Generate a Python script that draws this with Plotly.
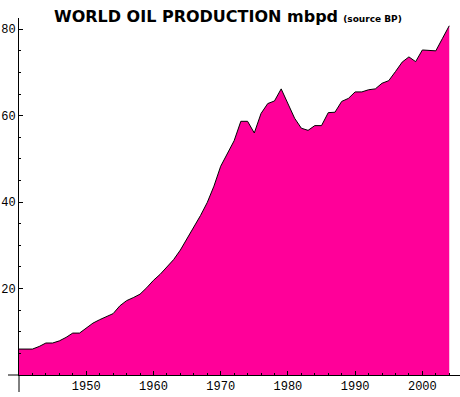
import plotly.graph_objects as go

years = list(range(1940, 2005))
production = [
    6.0, 6.0, 6.0, 6.6, 7.4, 7.4, 7.9, 8.7, 9.7, 9.7,
    10.8, 12.0, 12.8, 13.5, 14.2, 16.0, 17.2, 17.9, 18.7, 20.2,
    21.9, 23.3, 24.9, 26.7, 28.9, 31.5, 34.2, 36.9, 39.9, 43.7,
    48.3, 51.2, 54.2, 58.7, 58.7, 56.0, 60.5, 62.8, 63.4, 66.2,
    63.0, 59.4, 57.1, 56.6, 57.7, 57.7, 60.7, 60.8, 63.3, 64.0,
    65.5, 65.5, 66.0, 66.2, 67.5, 68.1, 70.2, 72.4, 73.6, 72.5,
    75.2, 75.1, 75.0, 77.9, 80.8,
]
x_major = [1950, 1960, 1970, 1980, 1990, 2000]
x_minor = [y for y in range(1942, 2006, 2) if y % 10 != 0]
y_major = [20, 40, 60, 80]
y_minor = [v for v in range(5, 85, 5) if v % 20 != 0]

W, H = 460, 397
L, R, T, B = 19, 0, 18, 22

fig = go.Figure()
fig.add_trace(go.Scatter(
    x=years, y=production, mode="lines", fill="tozeroy",
    fillcolor="#FF0099", line=dict(color="black", width=1),
    hoverinfo="skip", showlegend=False,
))

tickfont = dict(family="Liberation Mono", size=12, color="black")
fig.update_xaxes(
    range=[1940, 2005.6], showgrid=False, zeroline=False, automargin=False,
    showline=True, linecolor="black", linewidth=1,
    tickmode="array", tickvals=x_major, ticks="inside", ticklen=4,
    tickcolor="black", tickwidth=1, tickfont=tickfont,
    minor=dict(tickmode="array", tickvals=x_minor, ticks="inside", ticklen=2,
               tickcolor="black"),
)
fig.update_yaxes(
    range=[0, 82.6], showgrid=False, zeroline=False, automargin=False,
    showline=True, linecolor="black", linewidth=1,
    tickmode="array", tickvals=y_major, ticks="inside", ticklen=4,
    tickcolor="black", tickwidth=1, tickfont=tickfont,
    minor=dict(tickmode="array", tickvals=y_minor, ticks="inside", ticklen=2,
               tickcolor="black"),
)

ph = H - T - B
pw = W - L - R
# axis extensions (Mathematica-style crossing axes)
fig.add_shape(type="line", xref="paper", yref="paper",
              x0=0, x1=0, y0=0, y1=-(392 - (H - B)) / ph,
              line=dict(color="black", width=1))
fig.add_shape(type="line", xref="paper", yref="paper",
              x0=-(L - 8) / pw, x1=0, y0=0, y1=0,
              line=dict(color="black", width=1))

fig.add_annotation(
    xref="paper", yref="paper", x=(52 - L) / pw, y=(H - B - 16) / ph,
    xanchor="left", yanchor="middle", showarrow=False,
    text="<b>WORLD OIL PRODUCTION mbpd</b> <b><span style='font-size:9px'>(source BP)</span></b>",
    font=dict(family="DejaVu Sans", size=16, color="black"),
)

fig.update_layout(
    width=W, height=H, margin=dict(l=L, r=R, t=T, b=B, autoexpand=False),
    paper_bgcolor="white", plot_bgcolor="white",
)
fig.write_html("out.html", config={"displayModeBar": False, "staticPlot": True},
               post_script="document.body.style.margin='0';document.body.style.overflow='hidden';")
